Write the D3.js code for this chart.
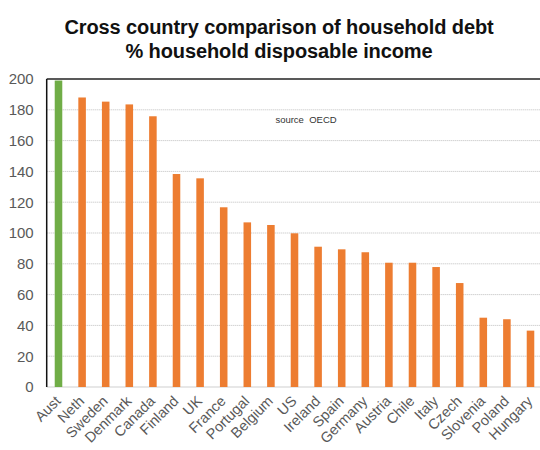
<!DOCTYPE html>
<html>
<head>
<meta charset="utf-8">
<script src="https://cdn.jsdelivr.net/npm/d3@7"></script>
<style>
  html, body { margin: 0; padding: 0; background: #fff; }
  svg { display: block; }
</style>
</head>
<body>
<div id="chart"></div>
<script>
// Household debt as % of household disposable income (OECD)
const countries = ["Aust", "Neth", "Sweden", "Denmark", "Canada", "Finland", "UK", "France",
  "Portugal", "Belgium", "US", "Ireland", "Spain", "Germany", "Austria", "Chile", "Italy",
  "Czech", "Slovenia", "Poland", "Hungary"];
const debtRatio = [199, 188, 185.3, 183.5, 175.8, 138.3, 135.5, 116.7, 106.9, 105.2, 99.8,
  91.1, 89.4, 87.5, 80.7, 80.7, 77.9, 67.5, 45, 44, 36.6];
const yTicks = [0, 20, 40, 60, 80, 100, 120, 140, 160, 180, 200];
const titleLines = ["Cross country comparison of household debt", "% household disposable income"];
const highlight = "Aust";

const width = 540, height = 450;
const plot = { left: 46.7, top: 79, bottom: 387, step: 23.6 };

const svg = d3.select("#chart").append("svg")
  .attr("width", width).attr("height", height);

const x = d3.scaleBand()
  .domain(countries)
  .range([plot.left, plot.left + plot.step * countries.length])
  .paddingInner(0.68)
  .paddingOuter(0.34);

const y = d3.scaleLinear().domain([0, 200]).range([plot.bottom, plot.top]);

// gridlines
svg.append("g")
  .selectAll("line")
  .data(yTicks.filter(t => t > 0 && t < 200))
  .join("line")
  .attr("x1", plot.left).attr("x2", width)
  .attr("y1", d => y(d)).attr("y2", d => y(d))
  .attr("stroke", "#bdbdbd")
  .attr("stroke-width", 1)
  .attr("stroke-dasharray", "1,1");

// baseline
svg.append("line")
  .attr("x1", plot.left).attr("x2", width)
  .attr("y1", y(0)).attr("y2", y(0))
  .attr("stroke", "#cfcfcf").attr("stroke-width", 1);

// top frame line
svg.append("line")
  .attr("x1", plot.left).attr("x2", width)
  .attr("y1", y(200)).attr("y2", y(200))
  .attr("stroke", "#222").attr("stroke-width", 1.5);

// bars
svg.append("g")
  .selectAll("rect")
  .data(countries.map((c, i) => ({ c, v: debtRatio[i] })))
  .join("rect")
  .attr("x", d => x(d.c))
  .attr("width", x.bandwidth())
  .attr("y", d => y(d.v))
  .attr("height", d => y(0) - y(d.v))
  .attr("fill", d => d.c === highlight ? "#70AD47" : "#ED7D31");

// left axis line
svg.append("line")
  .attr("x1", plot.left).attr("x2", plot.left)
  .attr("y1", y(200)).attr("y2", y(0))
  .attr("stroke", "#111").attr("stroke-width", 1.5);

// y tick labels
const yAxis = d3.axisLeft(y).tickValues(yTicks).tickSize(0).tickPadding(13);
const yg = svg.append("g")
  .attr("transform", `translate(${plot.left},0)`)
  .call(yAxis);
yg.select(".domain").remove();
yg.selectAll("text")
  .attr("font-family", "Liberation Sans, Arial, sans-serif")
  .attr("font-size", 15)
  .attr("fill", "#595959");

// x tick labels (rotated)
const xAxis = d3.axisBottom(x).tickSize(0).tickPadding(0);
const xg = svg.append("g")
  .attr("transform", `translate(0,${plot.bottom})`)
  .call(xAxis);
xg.select(".domain").remove();
xg.selectAll("text")
  .attr("font-family", "Liberation Sans, Arial, sans-serif")
  .attr("font-size", 14.5)
  .attr("fill", "#595959")
  .attr("text-anchor", "end")
  .attr("dy", 0)
  .attr("transform", "translate(3,15) rotate(-45)");

// title
svg.append("g")
  .selectAll("text")
  .data(titleLines)
  .join("text")
  .attr("x", 279)
  .attr("y", (d, i) => 34 + i * 24)
  .attr("text-anchor", "middle")
  .attr("font-family", "Liberation Sans, Arial, sans-serif")
  .attr("font-weight", "bold")
  .attr("font-size", 20)
  .attr("letter-spacing", -0.1)
  .attr("fill", "#111")
  .text(d => d);

// source note
svg.append("text")
  .attr("x", 306).attr("y", 123)
  .attr("text-anchor", "middle")
  .attr("font-family", "Liberation Sans, Arial, sans-serif")
  .attr("font-size", 9.5)
  .attr("fill", "#333")
  .attr("xml:space", "preserve")
  .text("source  OECD");
</script>
</body>
</html>
